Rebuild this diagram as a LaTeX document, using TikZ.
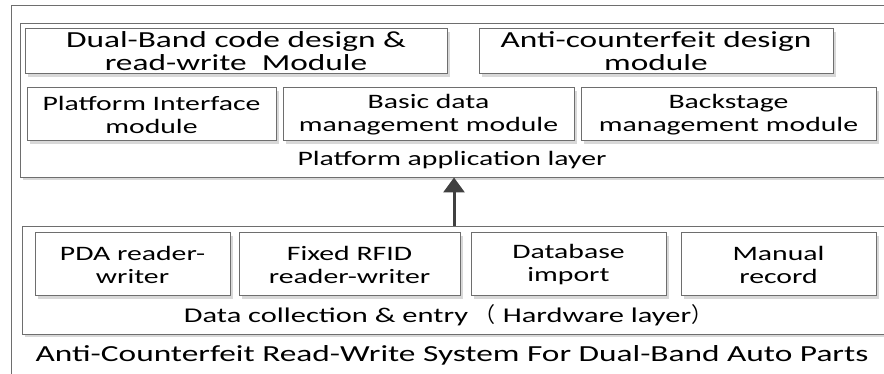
\documentclass[tikz,border=0pt]{standalone}
\usepackage{fontspec}
\setmainfont{Carlito}[FakeStretch=1.45]
\newfontfamily\cjk{Noto Sans CJK SC}
\usetikzlibrary{arrows.meta,shadows}
\definecolor{boxgray}{HTML}{6E6E6E}
\definecolor{shadowgray}{HTML}{D8D8D8}
\definecolor{arrowgray}{HTML}{404040}
\tikzset{
  layerbox/.style={draw=boxgray, line width=1pt, fill=white,
    drop shadow={shadow xshift=2pt, shadow yshift=-2.5pt, fill=shadowgray, opacity=1}},
  modbox/.style={draw=boxgray, line width=1pt, fill=white, inner sep=0pt, align=center,
    font=\fontsize{23}{23}\selectfont,
    drop shadow={shadow xshift=3pt, shadow yshift=-3pt, fill=shadowgray, opacity=1}},
  smallmod/.style={modbox, font=\fontsize{20.5}{23}\selectfont},
  labeltext/.style={inner sep=0pt, font=\fontsize{20.5}{23}\selectfont},
  datatext/.style={inner sep=0pt, font=\fontsize{21}{23}\selectfont},
  titletext/.style={inner sep=0pt, font=\fontsize{23}{23}\selectfont},
  uparrow/.style={draw=arrowgray, line width=3pt, -{Triangle[width=21pt,length=15pt]}}
}
\begin{document}
\begin{tikzpicture}[x=1pt,y=-1pt]
\useasboundingbox (0,0) rectangle (884,374);
\clip (0,0) rectangle (884,374);
\fill[white] (0,0) rectangle (884,374);
% outer frame
\draw[boxgray, line width=1pt] (900,6) -- (11,6) -- (11,400);
% top layer
\node[layerbox, minimum width=880pt, minimum height=154pt, inner sep=0pt, anchor=north west] (toplayer) at (20,23) {};
\node[modbox, minimum width=422pt, minimum height=45pt] (dual) at (236,51.5) {Dual-Band code design \&\\read-write\ \ Module};
\node[modbox, minimum width=354pt, minimum height=45pt] (anti) at (656,51.5) {Anti-counterfeit design\\module};
\node[smallmod, minimum width=249pt, minimum height=53pt] (plat) at (151.5,114.5) {Platform Interface\\module};
\node[smallmod, minimum width=291pt, minimum height=53pt] (basic) at (428.5,114.5) {Basic data\\management module};
\node[smallmod, minimum width=295pt, minimum height=53pt] (back) at (728.5,114.5) {Backstage\\management module};
\node[labeltext] (applabel) at (452,160) {Platform application layer};
% bottom layer
\node[layerbox, minimum width=880pt, minimum height=108pt, inner sep=0pt, anchor=north west] (botlayer) at (22,226) {};
\node[smallmod, minimum width=195pt, minimum height=63pt] (pda) at (132.5,264.5) {PDA reader-\\writer};
\node[smallmod, minimum width=221pt, minimum height=63pt] (fixed) at (349.5,264.5) {Fixed RFID\\reader-writer};
\node[smallmod, minimum width=195pt, minimum height=63pt] (db) at (568.5,264.5) {Database\\import};
\node[smallmod, minimum width=195pt, minimum height=63pt] (manual) at (778.5,264.5) {Manual\\record};
\node[datatext] (datalabel) at (448,315) {Data collection \& entry {\cjk （} Hardware layer{\cjk ）}};
% title
\node[titletext] (title) at (452,355) {Anti-Counterfeit Read-Write System For Dual-Band Auto Parts};
% arrow
\coordinate (arrs) at (454,226);
\coordinate (arre) at (454,177.5);
\draw[uparrow] (arrs) -- (arre);
\end{tikzpicture}
\end{document}
